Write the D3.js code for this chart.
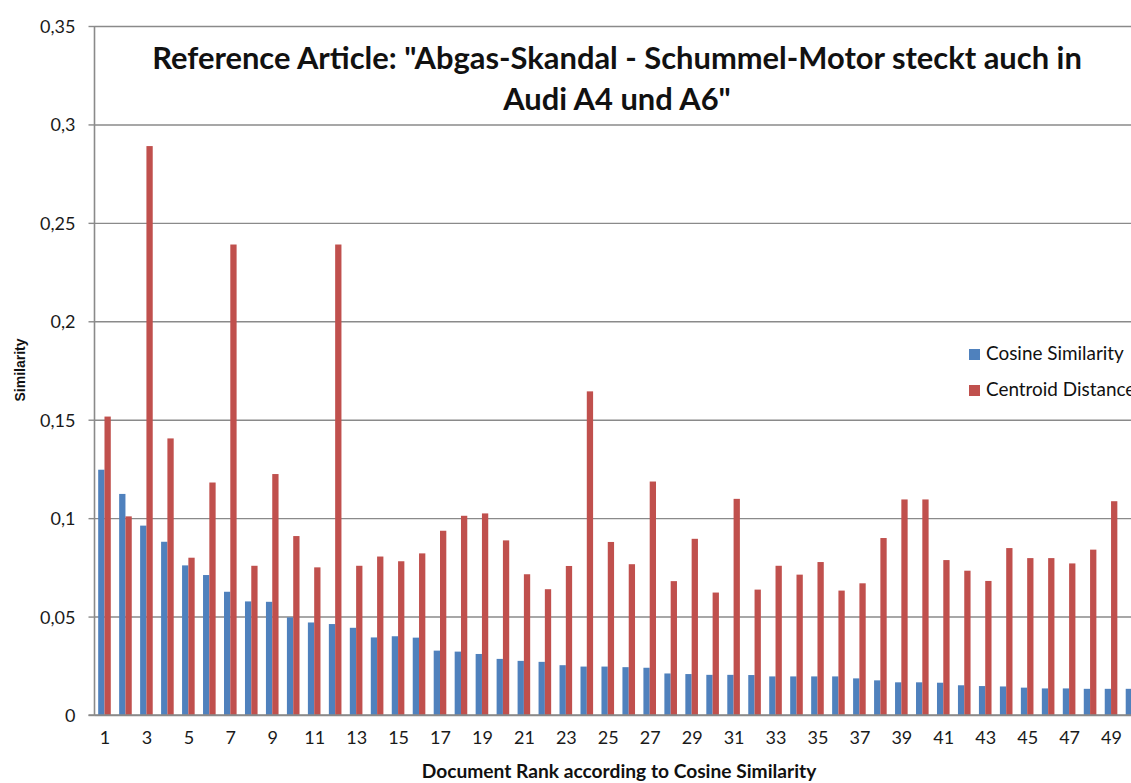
<!DOCTYPE html>
<html>
<head>
<meta charset="utf-8">
<script src="https://cdn.jsdelivr.net/npm/d3@7"></script>
<style>
  html, body { margin: 0; padding: 0; background: #fff; overflow: hidden; }
  svg { display: block; }
  .tick text { fill: #1a1a1a; }
</style>
</head>
<body>
<div id="chart"></div>
<script>
// data
var ranks = d3.range(1, 51);
var cosine = [0.1246, 0.1123, 0.0962, 0.0880, 0.0760, 0.0711, 0.0626, 0.0577, 0.0575, 0.0496,
              0.0470, 0.0462, 0.0443, 0.0394, 0.0400, 0.0393, 0.0327, 0.0322, 0.0310, 0.0285,
              0.0275, 0.0270, 0.0253, 0.0246, 0.0246, 0.0243, 0.0240, 0.0211, 0.0208, 0.0204,
              0.0204, 0.0203, 0.0196, 0.0196, 0.0196, 0.0196, 0.0186, 0.0176, 0.0166, 0.0166,
              0.0164, 0.0151, 0.0147, 0.0145, 0.0139, 0.0135, 0.0135, 0.0133, 0.0133, 0.0133];
var centroid = [0.1516, 0.1009, 0.2890, 0.1405, 0.0799, 0.1181, 0.2390, 0.0758, 0.1224, 0.0909,
                0.0750, 0.2390, 0.0758, 0.0805, 0.0781, 0.0821, 0.0936, 0.1012, 0.1024, 0.0887,
                0.0715, 0.0639, 0.0757, 0.1644, 0.0879, 0.0766, 0.1186, 0.0680, 0.0895, 0.0622,
                0.1098, 0.0637, 0.0758, 0.0713, 0.0777, 0.0632, 0.0669, 0.0899, 0.1095, 0.1095,
                0.0787, 0.0733, 0.0681, 0.0848, 0.0797, 0.0797, 0.0770, 0.0840, 0.1086, 0.0800];
var seriesNames = ['Cosine Similarity', 'Centroid Distance'];
var seriesColors = ['#4F81BD', '#C0504D'];
var yTicks = [0, 0.05, 0.1, 0.15, 0.2, 0.25, 0.3, 0.35];
var titleLines = ['Reference Article: "Abgas-Skandal - Schummel-Motor steckt auch in', 'Audi A4 und A6"'];

var W = 1131, H = 783;
var calibri = 'Lato, "Open Sans", sans-serif';

var svg = d3.select('#chart').append('svg').attr('width', W).attr('height', H);

//plot area: left axis at 94.5, band 20.97 px per rank, runs past the right edge like the original
var plotLeft = 94.5, plotTop = 26, plotBottom = 715, step = 20.97;
var x = d3.scaleBand().domain(ranks).range([plotLeft, plotLeft + step * ranks.length]).padding(0);
var x1 = d3.scaleBand().domain([0, 1]).range([step / 2 - 6.8, step / 2 + 5.8]).padding(0);
var y = d3.scaleLinear().domain([0, 0.35]).range([plotBottom, plotTop]);

// gridlines + y ticks
var yAxis = d3.axisLeft(y).tickValues(yTicks).tickSize(6).tickPadding(13)
    .tickFormat(function(d){ return d === 0 ? '0' : String(+d.toFixed(2)).replace('.', ','); });
var gy = svg.append('g').attr('transform', 'translate(' + plotLeft + ',0)').call(yAxis);
gy.select('.domain').remove();
gy.selectAll('.tick line').attr('stroke', '#8a8a8a').attr('stroke-width', 1.4);
gy.selectAll('.tick text').attr('font-family', calibri).attr('font-size', 18).attr('dy', '0.36em');
gy.selectAll('.tick').append('line').attr('x1', 0).attr('x2', W)
    .attr('stroke', '#8a8a8a').attr('stroke-width', 1.4);

// bars
var groups = svg.append('g').selectAll('g').data(ranks).join('g')
    .attr('transform', function(d){ return 'translate(' + x(d) + ',0)'; });
groups.selectAll('rect').data(function(d, i){ return [cosine[i], centroid[i]]; }).join('rect')
    .attr('x', function(d, j){ return x1(j); })
    .attr('width', x1.bandwidth())
    .attr('y', function(d){ return y(d); })
    .attr('height', function(d){ return y(0) - y(d); })
    .attr('fill', function(d, j){ return seriesColors[j]; });

// y axis line and baseline
svg.append('line').attr('x1', plotLeft).attr('x2', plotLeft).attr('y1', plotTop).attr('y2', plotBottom)
    .attr('stroke', '#8a8a8a').attr('stroke-width', 1.6);
svg.append('line').attr('x1', plotLeft - 6).attr('x2', W).attr('y1', plotBottom).attr('y2', plotBottom)
    .attr('stroke', '#8a8a8a').attr('stroke-width', 1.6);

// x labels, every second rank
var xAxis = d3.axisBottom(x).tickValues(ranks.filter(function(d){ return d % 2 === 1; }))
    .tickSize(0).tickPadding(16);
var gx = svg.append('g').attr('transform', 'translate(0,' + plotBottom + ')').call(xAxis);
gx.select('.domain').remove();
gx.selectAll('.tick text').attr('font-family', calibri).attr('font-size', 18);

//shrink/grow a text element so it covers the wanted width
function fit(sel, width){
    var n = sel.node(), fs = +sel.attr('font-size');
    sel.attr('font-size', fs * width / n.getComputedTextLength());
}

// title
var title = svg.append('g').attr('font-family', calibri).attr('font-weight', 700)
    .attr('text-anchor', 'middle').attr('fill', '#111');
var t1 = title.append('text').attr('x', 617).attr('y', 69).attr('font-size', 28).text(titleLines[0]);
fit(t1, 930);
title.append('text').attr('x', 617).attr('y', 110).attr('font-size', t1.attr('font-size')).text(titleLines[1]);

// axis titles
var xt = svg.append('text').attr('x', 619).attr('y', 778).attr('text-anchor', 'middle')
    .attr('font-family', calibri).attr('font-weight', 700).attr('font-size', 16).attr('fill', '#111')
    .text('Document Rank according to Cosine Similarity');
fit(xt, 395);
svg.append('text').attr('transform', 'translate(25,370) rotate(-90)').attr('text-anchor', 'middle')
    .attr('font-family', '"Liberation Sans", Arial, sans-serif').attr('font-weight', 700)
    .attr('font-size', 14).attr('fill', '#111').text('Similarity');

// legend
var lg = svg.append('g').selectAll('g').data(seriesNames).join('g')
    .attr('transform', function(d, i){ return 'translate(969,' + (349 + i * 36) + ')'; });
lg.append('rect').attr('width', 11).attr('height', 11)
    .attr('fill', function(d, i){ return seriesColors[i]; });
var lt = lg.append('text').attr('x', 17).attr('y', 11).attr('font-family', calibri)
    .attr('font-size', 17).attr('fill', '#111').text(function(d){ return d; });
fit(d3.select(lt.nodes()[0]), 138);
d3.select(lt.nodes()[1]).attr('font-size', d3.select(lt.nodes()[0]).attr('font-size'));
</script>
</body>
</html>
